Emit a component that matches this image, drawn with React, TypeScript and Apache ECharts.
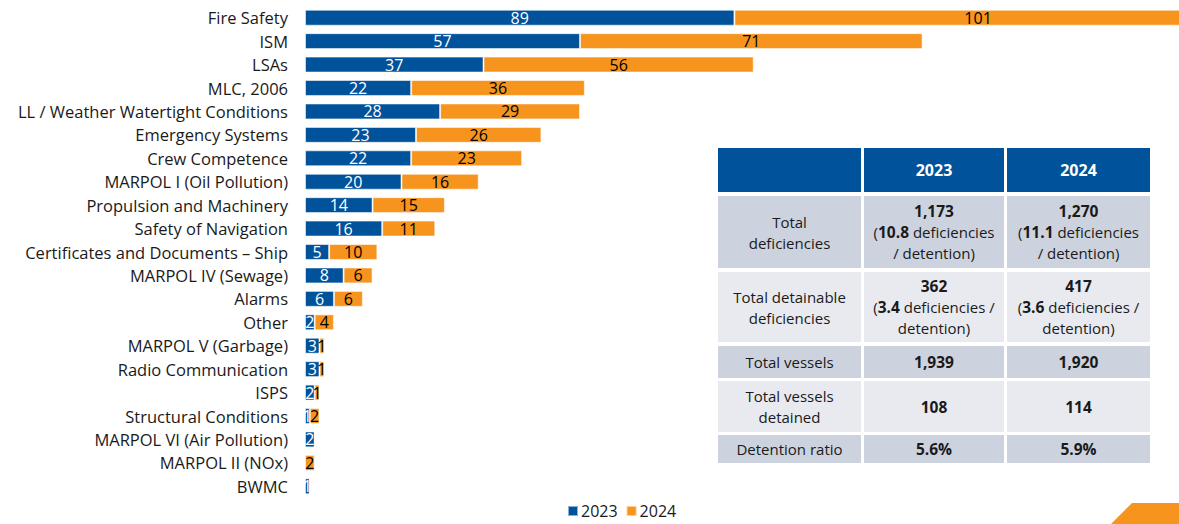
import React, { useEffect, useRef } from "react";
import * as echarts from "echarts";

const categories = [
  "Fire Safety", "ISM", "LSAs", "MLC, 2006", "LL / Weather Watertight Conditions",
  "Emergency Systems", "Crew Competence", "MARPOL I (Oil Pollution)", "Propulsion and Machinery",
  "Safety of Navigation", "Certificates and Documents – Ship", "MARPOL IV (Sewage)", "Alarms",
  "Other", "MARPOL V (Garbage)", "Radio Communication", "ISPS", "Structural Conditions",
  "MARPOL VI (Air Pollution)", "MARPOL II (NOx)", "BWMC",
];
const values2023 = [89, 57, 37, 22, 28, 23, 22, 20, 14, 16, 5, 8, 6, 2, 3, 3, 2, 1, 2, 0, 1];
const values2024 = [101, 71, 56, 36, 29, 26, 23, 16, 15, 11, 10, 6, 6, 4, 1, 1, 1, 2, 0, 2, 0];
const seriesNames = ["2023", "2024"];

const tableHeader = ["", "2023", "2024"];
const tableRows = [
  ["Total\ndeficiencies", "{b|1,173}\n({b|10.8} deficiencies\n/ detention)", "{b|1,270}\n({b|11.1} deficiencies\n/ detention)"],
  ["Total detainable\ndeficiencies", "{b|362}\n({b|3.4} deficiencies /\ndetention)", "{b|417}\n({b|3.6} deficiencies /\ndetention)"],
  ["Total vessels", "{b|1,939}", "{b|1,920}"],
  ["Total vessels\ndetained", "{b|108}", "{b|114}"],
  ["Detention ratio", "{b|5.6%}", "{b|5.9%}"],
];

const BLUE = "#00529b";
const ORANGE = "#f7941d";
const FONT = "Open Sans";

export default function App() {
  const ref = useRef<HTMLDivElement>(null);
  useEffect(() => {
    if (!ref.current) return;
    const chart = echarts.init(ref.current, undefined, { renderer: "svg" });

    const colX = [718, 864, 1007];
    const colW = [143, 140, 143];
    const rowY = [148, 196, 272, 346, 381, 435];
    const rowH = [44, 72, 70, 32, 51, 28];
    const rowColors = ["#cdd3de", "#e8eaf0", "#cdd3de", "#e8eaf0", "#cdd3de"];
    const graphics: any[] = [];
    for (let c = 0; c < 3; c++) {
      graphics.push({
        type: "rect",
        shape: { x: colX[c], y: rowY[0], width: colW[c], height: rowH[0] },
        style: { fill: BLUE },
      });
      if (tableHeader[c]) {
        graphics.push({
          type: "text",
          x: colX[c] + colW[c] / 2,
          y: rowY[0] + rowH[0] / 2,
          style: {
            text: tableHeader[c], fill: "#fff", font: `bold 16px ${FONT}`,
            textAlign: "center", textVerticalAlign: "middle",
          },
        });
      }
    }
    tableRows.forEach((row, r) => {
      row.forEach((cell, c) => {
        graphics.push({
          type: "rect",
          shape: { x: colX[c], y: rowY[r + 1], width: colW[c], height: rowH[r + 1] },
          style: { fill: rowColors[r] },
        });
        graphics.push({
          type: "text",
          x: colX[c] + colW[c] / 2,
          y: rowY[r + 1] + rowH[r + 1] / 2,
          style: {
            text: cell, fill: "#1a1a1a", fontSize: 15, fontFamily: FONT, lineHeight: 21,
            textAlign: "center", textVerticalAlign: "middle",
            rich: { b: { fontWeight: "bold", fontSize: 15.5, fontFamily: FONT, fill: "#1a1a1a", lineHeight: 21 } },
          },
        });
      });
    });
    graphics.push({
      type: "polygon",
      shape: { points: [[1111, 524], [1132, 503], [1179, 503], [1179, 524]] },
      style: { fill: ORANGE },
    });

    const mkSeries = (name: string, data: number[], color: string, labelColor: string) => ({
      name, type: "bar", stack: "total", data, barCategoryGap: "32%",
      itemStyle: { color, borderColor: "rgba(255,255,255,0.55)", borderWidth: 1 },
      label: {
        show: true, position: "inside", color: labelColor, fontSize: 16, fontFamily: FONT,
        formatter: (p: any) => (p.value ? String(p.value) : ""),
      },
    });

    chart.setOption({
      animation: false,
      textStyle: { fontFamily: FONT },
      grid: { left: 305, right: 3.25, top: 6, bottom: 26, containLabel: false },
      xAxis: { type: "value", min: 0, max: 190, show: false },
      yAxis: {
        type: "category", data: categories, inverse: true,
        axisLine: { show: false }, axisTick: { show: false },
        axisLabel: { color: "#1a1a1a", fontSize: 16.5, fontFamily: FONT, margin: 17 },
      },
      legend: {
        data: seriesNames, bottom: 0, left: 562, itemWidth: 10, itemHeight: 10, itemGap: 8,
        icon: "rect", textStyle: { fontSize: 16, color: "#1a1a1a", fontFamily: FONT, padding: [0, 0, 0, -2] },
      },
      series: [
        mkSeries(seriesNames[0], values2023, BLUE, "#fff"),
        mkSeries(seriesNames[1], values2024, ORANGE, "#000"),
      ],
      graphic: graphics,
    });
    return () => chart.dispose();
  }, []);
  return (
    <div
      style={{ position: "absolute", left: 0, top: 0, width: 1179, height: 524, background: "#fff", overflow: "hidden" }}
    >
      <div ref={ref} style={{ position: "absolute", left: 0, top: 0, width: 1225, height: 524 }} />
    </div>
  );
}
